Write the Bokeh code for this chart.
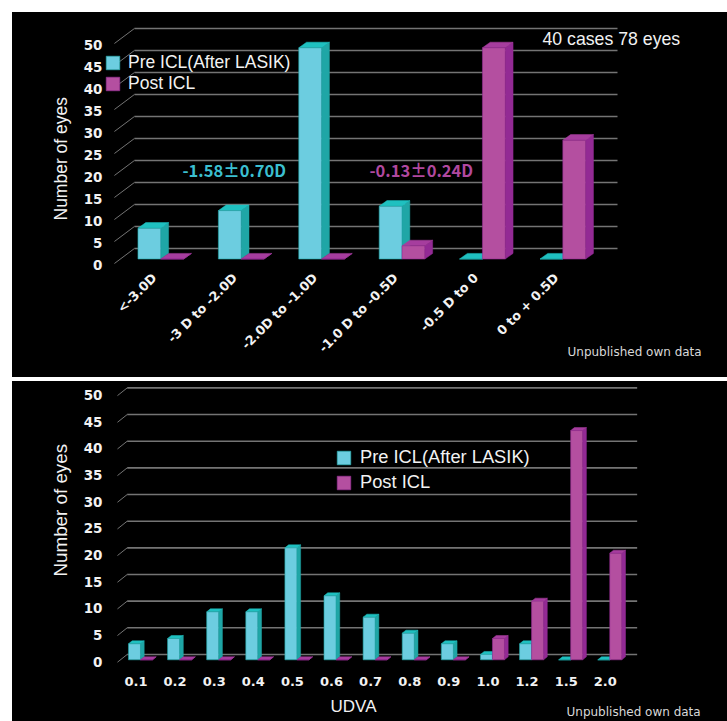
from bokeh.embed import file_html
from bokeh.layouts import column
from bokeh.models import FixedTicker, Label, Legend, LegendItem, LinearAxis, Range1d, Title
from bokeh.plotting import figure
from bokeh.resources import INLINE

# Refractive error distribution (eyes per bin)
refraction_bins = ["<-3.0D", "-3 D to -2.0D", "-2.0D to -1.0D", "-1.0 D to -0.5D", "-0.5 D to 0", "0 to + 0.5D"]
refraction_pre = [7, 11, 48, 12, 0, 0]
refraction_post = [0, 0, 0, 3, 48, 27]

# Uncorrected visual acuity distribution (eyes per bin)
udva_bins = ["0.1", "0.2", "0.3", "0.4", "0.5", "0.6", "0.7", "0.8", "0.9", "1.0", "1.2", "1.5", "2.0"]
udva_pre = [3, 4, 9, 9, 21, 12, 8, 5, 3, 1, 3, 0, 0]
udva_post = [0, 0, 0, 0, 0, 0, 0, 0, 0, 4, 11, 43, 20]

y_ticks = [0, 5, 10, 15, 20, 25, 30, 35, 40, 45, 50]
series_names = ["Pre ICL(After LASIK)", "Post ICL"]

CYAN = dict(front="#6ccde0", side="#1fa6a6", top="#1fc0c0")
MAGENTA = dict(front="#b44fa0", side="#932a94", top="#a63d9e")
GRID = "#747474"
WHITE = "#f2f2f2"
SANS = "Liberation Sans"
CJK = "Noto Sans CJK JP"
FRAME_LEFT = 104
LEFT_BORDER = 92


def add_bars(p, values, offset, width, dx, dy, colors):
    """Front face through vbar, side and top faces as depth-shifted polygons."""
    lefts = [i + offset for i in range(len(values))]
    rights = [x + width for x in lefts]
    side_x = [[r, r + dx, r + dx, r] for r in rights]
    side_y = [[0, dy, v + dy, v] for v in values]
    top_x = [[l, l + dx, r + dx, r] for l, r in zip(lefts, rights)]
    top_y = [[v, v + dy, v + dy, v] for v in values]
    p.patches(side_x, side_y, fill_color=colors["side"], line_color=colors["side"], line_width=0.5)
    p.patches(top_x, top_y, fill_color=colors["top"], line_color=colors["top"], line_width=0.5)
    mids = [l + width / 2 for l in lefts]
    return p.vbar(x=mids, top=values, bottom=0, width=width, fill_color=colors["front"],
                  line_color=colors["side"], line_width=0.6)


def make_panel(bins, pre, post, cfg):
    p = figure(width=715, height=cfg["height"], frame_width=623, frame_height=cfg["frame_h"],
               x_range=Range1d(*cfg["x"]), y_range=Range1d(*cfg["y"]),
               x_axis_location=None, y_axis_location=None, toolbar_location=None,
               output_backend="svg", min_border_left=LEFT_BORDER, min_border_right=0, min_border_top=0,
               min_border_bottom=cfg["height"] - cfg["frame_h"], margin=cfg["margin"],
               background_fill_color="black", border_fill_color="black", outline_line_color=None)
    p.grid.visible = False
    p.styles = {"background-color": "black"}

    # Tick labels sit on the front edge of the floor, so they use shifted ranges
    p.extra_y_ranges["wall"] = Range1d(cfg["y"][0] + cfg["y_shift"], cfg["y"][1] + cfg["y_shift"])
    p.extra_x_ranges["floor"] = Range1d(cfg["x"][0] + cfg["x_shift"], cfg["x"][1] + cfg["x_shift"])

    yaxis = LinearAxis(y_range_name="wall", ticker=FixedTicker(ticks=y_ticks))
    xaxis = LinearAxis(x_range_name="floor", ticker=FixedTicker(ticks=list(range(len(bins)))),
                       major_label_overrides={i: b for i, b in enumerate(bins)})
    for axis in (xaxis, yaxis):
        axis.axis_line_color = None
        axis.major_tick_line_color = None
        axis.minor_tick_line_color = None
        axis.major_tick_out = 0
        axis.major_tick_in = 0
        axis.major_label_text_color = WHITE
        axis.major_label_text_font = "DejaVu Sans"
        axis.major_label_text_font_style = "bold"
        axis.major_label_text_font_size = "13.5px"
    yaxis.major_label_standoff = 2
    xaxis.major_label_standoff = cfg["x_standoff"]
    xaxis.major_label_text_font_size = cfg["x_font"]
    if cfg["x_angle"]:
        xaxis.major_label_orientation = cfg["x_angle"]
    p.add_layout(yaxis, "left")
    p.add_layout(xaxis, "below")

    # Back wall lines and their diagonal run across the floor
    fx, bx, rx = cfg["grid_x"]
    fy, by = cfg["grid_y"]
    p.segment(x0=[bx] * len(y_ticks), y0=[t + by for t in y_ticks], x1=[rx] * len(y_ticks),
              y1=[t + by for t in y_ticks], line_color=GRID, line_width=1.6)
    p.segment(x0=[fx] * len(y_ticks), y0=[t + fy for t in y_ticks], x1=[bx] * len(y_ticks),
              y1=[t + by for t in y_ticks], line_color=GRID, line_width=1)

    w, dx, dy = cfg["bar"]
    pre_bar = add_bars(p, pre, -w, w, dx, dy, CYAN)
    post_bar = add_bars(p, post, 0, w, dx, dy, MAGENTA)

    lx, ly, fs, sp = cfg["legend"]
    legend = Legend(items=[LegendItem(label=series_names[0], renderers=[pre_bar]),
                           LegendItem(label=series_names[1], renderers=[post_bar])],
                    location=(lx, ly), background_fill_alpha=0, border_line_color=None,
                    glyph_width=17, glyph_height=17, label_standoff=cfg["legend_gap"], padding=0, margin=0,
                    spacing=sp, label_text_color=WHITE, label_text_font=SANS, label_text_font_size=fs,
                    label_height=14)
    p.add_layout(legend, "center")
    return p


def note(p, frame_bottom, text, page_x, page_y, size, color=WHITE, font=SANS, style="normal"):
    # Label screen units count from the frame's lower left corner
    p.add_layout(Label(x=page_x - FRAME_LEFT, y=frame_bottom - page_y, x_units="screen", y_units="screen",
                       text=text, text_color=color, text_font=font, text_font_size=size,
                       text_font_style=style, text_baseline="middle"))


def side_title(p, side, text, offset, standoff, size, font=SANS):
    # Titles live outside the frame, next to the axes
    p.add_layout(Title(text=text, align="left", offset=offset, standoff=standoff, text_color=WHITE,
                       text_font=font, text_font_size=size, text_font_style="normal"), side)


def caption(text, page_x, top_margin, bottom_margin):
    # Black strip laid over the panel's lower right corner. Plots in a column
    # share their left border, so the strip keeps the panels' border width.
    c = figure(width=LEFT_BORDER + 145, height=18, x_range=Range1d(0, 1), y_range=Range1d(0, 1),
               x_axis_location=None, y_axis_location=None, toolbar_location=None, output_backend="svg",
               min_border=0, min_border_left=LEFT_BORDER,
               margin=(top_margin, 0, bottom_margin, page_x - LEFT_BORDER),
               background_fill_color="black", border_fill_color="black", outline_line_color=None)
    c.grid.visible = False
    c.styles = {"background-color": "black"}
    c.add_layout(Label(x=0, y=9, x_units="screen", y_units="screen", text=text, text_color="#d8d8d8",
                       text_font="DejaVu Sans", text_font_size="12px", text_baseline="middle"))
    return c


top = make_panel(refraction_bins, refraction_pre, refraction_post, dict(
    height=365, frame_h=255, margin=(12, 0, 0, 12),
    x=(-0.70025, 7.048), y=(-1.932, 56.02), y_shift=1.36, x_shift=0.08, x_standoff=8, x_angle=0.785,
    x_font="12.8px", grid_x=(-0.577, -0.328, 5.68), grid_y=(-1.02, 2.386),
    bar=(0.284, 0.097, 1.27), legend=(0, 173, "17.5px", 0), legend_gap=7))

bottom = make_panel(udva_bins, udva_pre, udva_post, dict(
    height=340, frame_h=286, margin=(0, 0, 0, 12),
    x=(-0.92, 15.01), y=(-1.445, 52.2), y_shift=0.32, x_shift=0.115, x_standoff=9, x_angle=0,
    x_font="13px", grid_x=(-0.588, -0.34, 12.7), grid_y=(-0.45, 1.0),
    bar=(0.307, 0.095, 0.56), legend=(231, 174, "18.3px", 3), legend_gap=8))

TOP_BOTTOM = 267
note(top, TOP_BOTTOM, "40 cases 78 eyes", 542, 38, "17.7px")
note(top, TOP_BOTTOM, "-1.58±0.70D", 182, 169, "16.5px", color="#3bbfd0", font=CJK, style="bold")
note(top, TOP_BOTTOM, "-0.13±0.24D", 369, 169, "16.5px", color="#b0489f", font=CJK, style="bold")

side_title(top, "left", "Number of eyes", 47, 20, "17.5px")
side_title(bottom, "left", "Number of eyes", 91, 20, "18.8px")
side_title(bottom, "below", "UDVA", 226, 13, "17px")

# Source captions: strips overlap the panels through negative top margins
top_caption = caption("Unpublished own data", 567, -35, 21)
bottom_caption = caption("Unpublished own data", 566, -20, 2)

layout = column(top, top_caption, bottom, bottom_caption, spacing=0)
open("out.html", "w").write(file_html(layout, INLINE))
